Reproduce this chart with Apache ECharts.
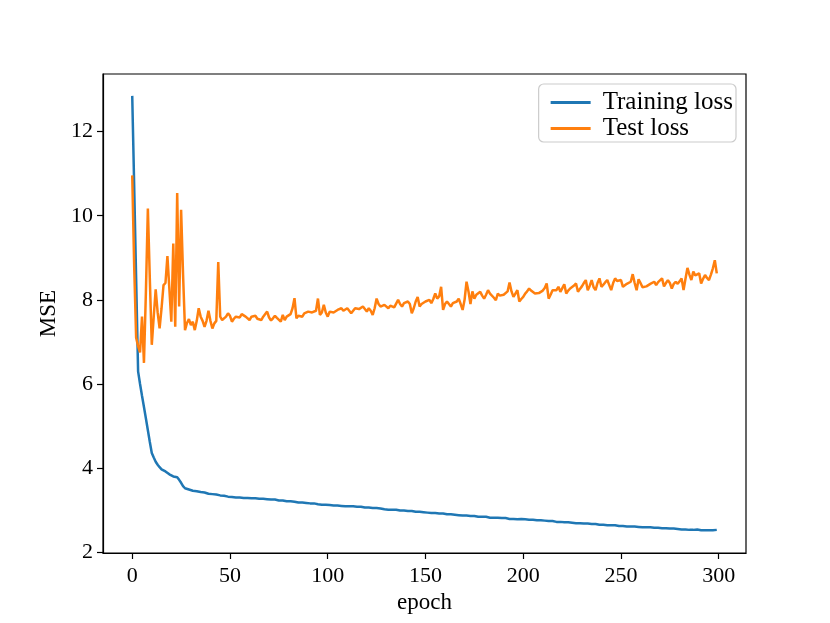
<!DOCTYPE html>
<html>
<head>
<meta charset="utf-8">
<script src="https://cdn.jsdelivr.net/npm/echarts@6/dist/echarts.min.js"></script>
<style>
  html, body { margin: 0; padding: 0; background: #fff; }
  #chart { width: 830px; height: 623px; }
</style>
</head>
<body>
<div id="chart"></div>
<script>
// training / test loss per epoch
const trainLoss = [
  12.85, 10.7, 8.5, 6.3, 6.0, 5.72, 5.45, 5.18, 4.9, 4.62,
  4.36, 4.25, 4.15, 4.08, 4.02, 3.97, 3.95, 3.92, 3.88, 3.85,
  3.82, 3.80, 3.80, 3.78, 3.72, 3.65, 3.57, 3.52, 3.50, 3.49,
  3.48, 3.46, 3.45, 3.45, 3.44, 3.43, 3.42, 3.42, 3.40, 3.39,
  3.39, 3.38, 3.37, 3.37, 3.36, 3.35, 3.34, 3.34, 3.33, 3.32,
  3.32, 3.31, 3.31, 3.30, 3.31, 3.30, 3.29, 3.29, 3.28, 3.29,
  3.28, 3.28, 3.27, 3.28, 3.27, 3.27, 3.26, 3.27, 3.26, 3.26,
  3.25, 3.25, 3.24, 3.25, 3.23, 3.23, 3.22, 3.23, 3.21, 3.21,
  3.20, 3.21, 3.20, 3.20, 3.19, 3.18, 3.19, 3.18, 3.17, 3.17,
  3.16, 3.16, 3.15, 3.16, 3.15, 3.14, 3.14, 3.13, 3.14, 3.13,
  3.13, 3.12, 3.12, 3.11, 3.12, 3.11, 3.10, 3.10, 3.10, 3.09,
  3.10, 3.09, 3.08, 3.09, 3.08, 3.08, 3.07, 3.08, 3.07, 3.06,
  3.07, 3.06, 3.05, 3.05, 3.04, 3.05, 3.03, 3.04, 3.03, 3.02,
  3.02, 3.01, 3.02, 3.01, 3.00, 3.01, 3.00, 2.99, 3.00, 2.99,
  2.98, 2.98, 2.97, 2.98, 2.97, 2.96, 2.96, 2.96, 2.95, 2.95,
  2.95, 2.94, 2.94, 2.93, 2.94, 2.93, 2.92, 2.92, 2.91, 2.92,
  2.91, 2.90, 2.91, 2.90, 2.89, 2.89, 2.89, 2.88, 2.88, 2.87,
  2.88, 2.87, 2.86, 2.86, 2.85, 2.86, 2.85, 2.84, 2.84, 2.84,
  2.83, 2.84, 2.83, 2.82, 2.82, 2.82, 2.81, 2.82, 2.81, 2.81,
  2.80, 2.81, 2.80, 2.79, 2.80, 2.79, 2.79, 2.78, 2.78, 2.79,
  2.78, 2.78, 2.77, 2.77, 2.76, 2.77, 2.76, 2.76, 2.75, 2.76,
  2.75, 2.75, 2.74, 2.74, 2.73, 2.74, 2.73, 2.72, 2.73, 2.72,
  2.72, 2.71, 2.72, 2.71, 2.71, 2.70, 2.70, 2.69, 2.70, 2.69,
  2.69, 2.68, 2.68, 2.68, 2.67, 2.67, 2.66, 2.67, 2.66, 2.65,
  2.66, 2.65, 2.65, 2.64, 2.64, 2.64, 2.63, 2.64, 2.63, 2.62,
  2.63, 2.62, 2.62, 2.61, 2.62, 2.61, 2.60, 2.61, 2.60, 2.60,
  2.60, 2.59, 2.60, 2.59, 2.58, 2.59, 2.58, 2.58, 2.57, 2.58,
  2.57, 2.57, 2.56, 2.57, 2.56, 2.56, 2.55, 2.56, 2.55, 2.55,
  2.55, 2.54, 2.55, 2.54, 2.54, 2.53, 2.54, 2.53, 2.53, 2.54,
  2.53, 2.52, 2.53, 2.52, 2.53, 2.52, 2.51, 2.52, 2.52, 2.53
]

const testLoss = [
  10.96, 8.8, 7.1, 6.9, 6.75, 7.6, 6.5, 8.2, 10.17, 8.5,
  6.93, 7.6, 8.25, 7.7, 7.32, 7.8, 8.35, 8.4, 9.04, 8.26,
  7.48, 9.34, 7.36, 10.54, 7.84, 10.14, 8.6, 7.28, 7.45, 7.54,
  7.4, 7.48, 7.28, 7.5, 7.8, 7.6, 7.5, 7.36, 7.5, 7.74,
  7.5, 7.32, 7.44, 7.5, 8.9, 7.6, 7.52, 7.52, 7.6, 7.68,
  7.62, 7.48, 7.55, 7.6, 7.64, 7.58, 7.66, 7.63, 7.6, 7.64,
  7.52, 7.6, 7.58, 7.62, 7.55, 7.58, 7.52, 7.6, 7.64, 7.72,
  7.58, 7.51, 7.56, 7.62, 7.57, 7.6, 7.48, 7.64, 7.52, 7.6,
  7.58, 7.66, 7.8, 8.04, 7.56, 7.62, 7.64, 7.6, 7.68, 7.66,
  7.72, 7.76, 7.7, 7.72, 7.74, 8.03, 7.64, 7.7, 7.88, 7.7,
  7.6, 7.72, 7.76, 7.7, 7.74, 7.76, 7.72, 7.8, 7.74, 7.76,
  7.8, 7.84, 7.68, 7.74, 7.8, 7.76, 7.78, 7.8, 7.84, 7.78,
  7.72, 7.8, 7.74, 7.64, 7.8, 8.03, 7.9, 7.84, 7.84, 7.88,
  7.84, 7.8, 7.86, 7.88, 7.82, 7.84, 8.0, 7.9, 7.84, 7.92,
  7.88, 7.96, 7.9, 7.68, 7.8, 7.96, 8.07, 7.84, 7.9, 7.92,
  7.96, 7.98, 8.0, 7.92, 8.02, 8.15, 8.03, 8.08, 8.31, 7.76,
  7.9, 7.96, 8.0, 7.84, 7.92, 7.88, 7.96, 8.03, 7.9, 7.76,
  8.0, 8.43, 8.2, 7.9, 8.2, 8.03, 8.12, 8.15, 8.19, 8.1,
  8.03, 8.12, 8.23, 8.15, 8.11, 8.05, 7.99, 8.15, 8.1, 8.07,
  8.12, 8.11, 8.2, 8.41, 8.2, 8.07, 8.15, 8.23, 7.96, 8.02,
  8.07, 8.15, 8.2, 8.27, 8.22, 8.19, 8.15, 8.11, 8.16, 8.19,
  8.22, 8.28, 8.39, 8.03, 8.12, 8.23, 8.2, 8.23, 8.31, 8.19,
  8.28, 8.37, 8.15, 8.22, 8.27, 8.3, 8.34, 8.39, 8.19, 8.26,
  8.32, 8.4, 8.47, 8.23, 8.33, 8.47, 8.3, 8.23, 8.4, 8.51,
  8.31, 8.36, 8.42, 8.47, 8.35, 8.23, 8.4, 8.51, 8.45, 8.47,
  8.47, 8.31, 8.35, 8.38, 8.39, 8.43, 8.61, 8.4, 8.23, 8.49,
  8.4, 8.3, 8.27, 8.32, 8.35, 8.38, 8.4, 8.43, 8.35, 8.42,
  8.46, 8.51, 8.32, 8.4, 8.47, 8.4, 8.27, 8.38, 8.43, 8.38,
  8.44, 8.51, 8.23, 8.5, 8.76, 8.6, 8.47, 8.67, 8.58, 8.55,
  8.63, 8.39, 8.5, 8.59, 8.52, 8.47, 8.6, 8.75, 8.94, 8.63
]

const xTicks = [0, 50, 100, 150, 200, 250, 300]
const yTicks = [2, 4, 6, 8, 10, 12]

const font = 'Liberation Serif'
const toPairs = arr => arr.map((v, i) => [i, v])

const chart = echarts.init(document.getElementById('chart'), null, { renderer: 'canvas' })

const option = {
  animation: false,
  backgroundColor: '#fff',
  textStyle: { fontFamily: font, color: '#000' },
  grid: {
    left: 103, right: 84, top: 74, bottom: 70,
    show: true, borderColor: '#000', borderWidth: 1.2, backgroundColor: 'transparent'
  },
  legend: {
    orient: 'vertical',
    right: 94,
    top: 84,
    padding: [6, 3, 1, 12],
    itemGap: 1,
    itemWidth: 40,
    itemHeight: 3,
    backgroundColor: 'rgba(255,255,255,0.8)',
    borderColor: '#cccccc',
    borderWidth: 1.2,
    borderRadius: 5,
    textStyle: { fontFamily: font, fontSize: 25, lineHeight: 22, color: '#000', padding: [0, 0, 0, 7] },
    data: [
      { name: 'Training loss', icon: 'rect' },
      { name: 'Test loss', icon: 'rect' }
    ]
  },
  xAxis: {
    type: 'value',
    min: -14.95,
    max: 313.95,
    name: 'epoch',
    nameLocation: 'middle',
    nameGap: 37,
    nameTextStyle: { fontFamily: font, fontSize: 23, color: '#000' },
    axisLine: { onZero: false, lineStyle: { color: '#000', width: 1.2 } },
    axisTick: { show: true, inside: false, length: 6, customValues: xTicks, lineStyle: { color: '#000', width: 1.2 } },
    axisLabel: { customValues: xTicks, margin: 12, fontFamily: font, fontSize: 22, color: '#000' },
    splitLine: { show: false }
  },
  yAxis: {
    type: 'value',
    min: 1.98,
    max: 13.37,
    name: 'MSE',
    nameLocation: 'middle',
    nameGap: 43,
    nameTextStyle: { fontFamily: font, fontSize: 23, color: '#000' },
    axisLine: { show: true, onZero: false, lineStyle: { color: '#000', width: 1.2 } },
    axisTick: { show: true, inside: false, length: 6, customValues: yTicks, lineStyle: { color: '#000', width: 1.2 } },
    axisLabel: { customValues: yTicks, margin: 10, fontFamily: font, fontSize: 22, color: '#000' },
    splitLine: { show: false }
  },
  series: [
    {
      name: 'Training loss',
      type: 'line',
      data: toPairs(trainLoss),
      showSymbol: false,
      color: '#1f77b4',
      lineStyle: { width: 2.5, color: '#1f77b4' }
    },
    {
      name: 'Test loss',
      type: 'line',
      data: toPairs(testLoss),
      showSymbol: false,
      color: '#ff7f0e',
      lineStyle: { width: 2.5, color: '#ff7f0e' }
    }
  ]
}

chart.setOption(option)
</script>
</body>
</html>
